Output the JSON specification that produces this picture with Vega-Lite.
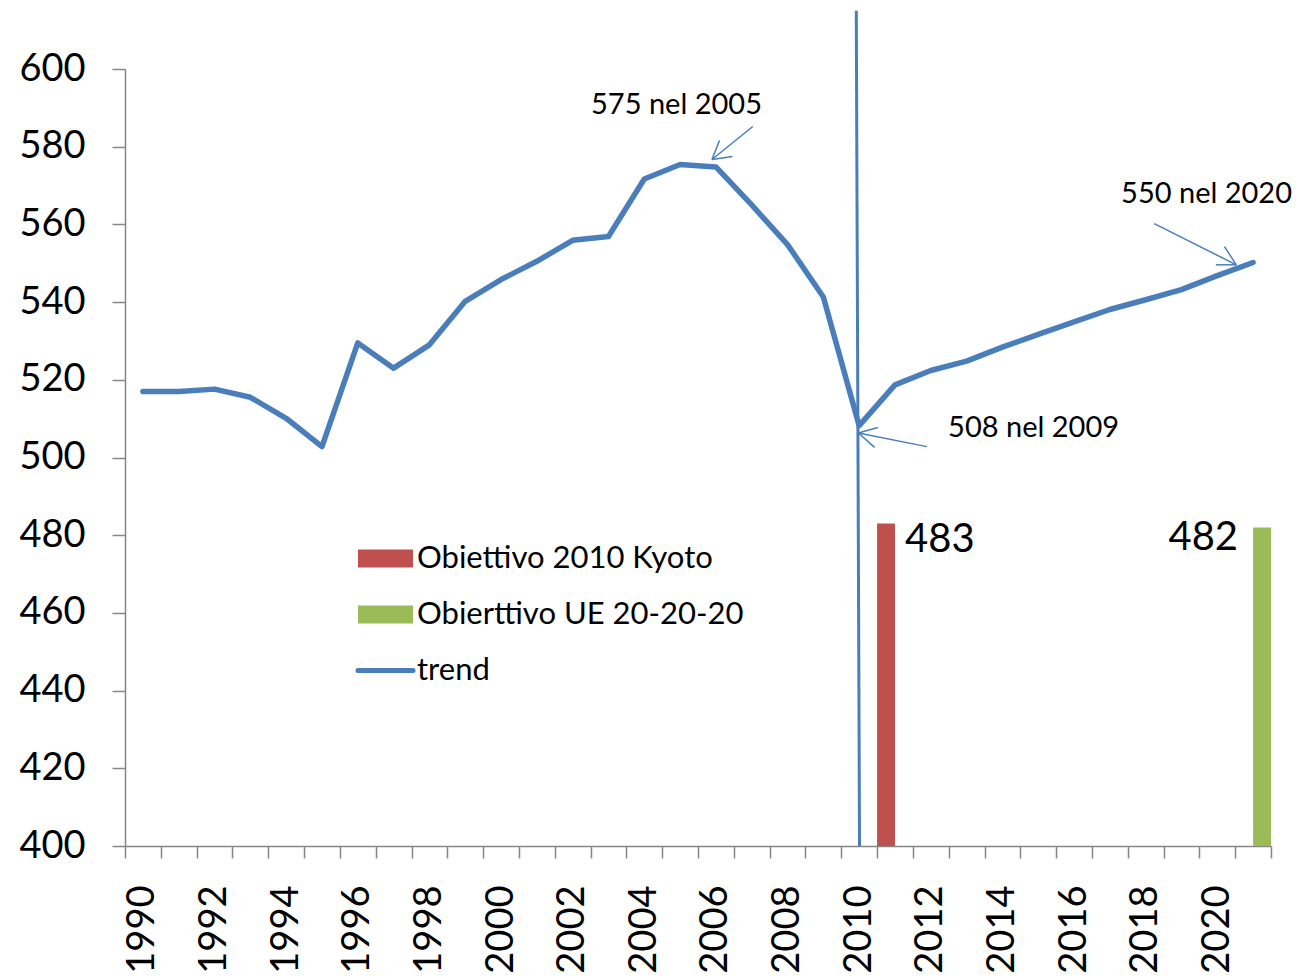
{
  "$schema": "https://vega.github.io/schema/vega-lite/v6.json",
  "width": 1146,
  "height": 777,
  "autosize": {"type": "none"},
  "padding": {"left": 125, "top": 69, "right": 30, "bottom": 134},
  "background": "white",
  "config": {
    "view": {"stroke": null},
    "font": "Lato",
    "axis": {
      "domainColor": "#868686",
      "tickColor": "#868686",
      "domainWidth": 1.5,
      "tickWidth": 1.5,
      "labelColor": "black",
      "grid": false,
      "labelFont": "Lato",
      "labelFontSize": 38
    }
  },
  "datasets": {
    "trend": [
      {"year": 1990, "value": 517.0, "series": "trend"},
      {"year": 1991, "value": 517.0, "series": "trend"},
      {"year": 1992, "value": 517.6, "series": "trend"},
      {"year": 1993, "value": 515.5, "series": "trend"},
      {"year": 1994, "value": 510.1, "series": "trend"},
      {"year": 1995, "value": 502.8, "series": "trend"},
      {"year": 1996, "value": 529.5, "series": "trend"},
      {"year": 1997, "value": 523.0, "series": "trend"},
      {"year": 1998, "value": 529.0, "series": "trend"},
      {"year": 1999, "value": 540.2, "series": "trend"},
      {"year": 2000, "value": 545.8, "series": "trend"},
      {"year": 2001, "value": 550.5, "series": "trend"},
      {"year": 2002, "value": 555.9, "series": "trend"},
      {"year": 2003, "value": 556.9, "series": "trend"},
      {"year": 2004, "value": 571.7, "series": "trend"},
      {"year": 2005, "value": 575.4, "series": "trend"},
      {"year": 2006, "value": 574.8, "series": "trend"},
      {"year": 2007, "value": 565.0, "series": "trend"},
      {"year": 2008, "value": 554.8, "series": "trend"},
      {"year": 2009, "value": 541.3, "series": "trend"},
      {"year": 2010, "value": 508.2, "series": "trend"},
      {"year": 2011, "value": 518.7, "series": "trend"},
      {"year": 2012, "value": 522.4, "series": "trend"},
      {"year": 2013, "value": 524.8, "series": "trend"},
      {"year": 2014, "value": 528.4, "series": "trend"},
      {"year": 2015, "value": 531.7, "series": "trend"},
      {"year": 2016, "value": 534.9, "series": "trend"},
      {"year": 2017, "value": 538.1, "series": "trend"},
      {"year": 2018, "value": 540.6, "series": "trend"},
      {"year": 2019, "value": 543.2, "series": "trend"},
      {"year": 2020, "value": 546.8, "series": "trend"},
      {"year": 2021, "value": 550.2, "series": "trend"}
    ],
    "targets": [
      {"year": 2011, "value": 483, "series": "Obiettivo 2010 Kyoto"},
      {"year": 2021, "value": 482, "series": "Obierttivo UE 20-20-20"}
    ],
    "arrows": [
      {"from_year": 2007.03, "from_val": 585.2, "to_year": 2005.89, "to_val": 576.7},
      {"from_year": 2006.10, "from_val": 581.6, "to_year": 2005.89, "to_val": 576.7},
      {"from_year": 2006.46, "from_val": 577.5, "to_year": 2005.89, "to_val": 576.7},
      {"from_year": 2018.24, "from_val": 560.2, "to_year": 2020.53, "to_val": 549.6},
      {"from_year": 2020.20, "from_val": 554.3, "to_year": 2020.53, "to_val": 549.6},
      {"from_year": 2019.96, "from_val": 549.6, "to_year": 2020.53, "to_val": 549.6},
      {"from_year": 2011.89, "from_val": 502.8, "to_year": 2009.98, "to_val": 506.3},
      {"from_year": 2010.52, "from_val": 507.7, "to_year": 2009.98, "to_val": 506.3},
      {"from_year": 2010.43, "from_val": 502.6, "to_year": 2009.98, "to_val": 506.3}
    ],
    "divider": [
      {"from_year": 2009.92, "from_val": 615, "to_year": 2010.01, "to_val": 400}
    ],
    "notes": [
      {"year": 2004.9, "value": 588.5, "label": "575 nel 2005"},
      {"year": 2019.7, "value": 565.5, "label": "550 nel 2020"},
      {"year": 2014.87, "value": 505.4, "label": "508 nel 2009"}
    ]
  },
  "layer": [
    {
      "layer": [
        {
          "data": {"name": "targets"},
          "mark": {"type": "bar"},
          "encoding": {
            "x": {
              "field": "year", "type": "ordinal", "title": null,
              "scale": {"domain": [1990,1991,1992,1993,1994,1995,1996,1997,1998,1999,2000,2001,2002,2003,2004,2005,2006,2007,2008,2009,2010,2011,2012,2013,2014,2015,2016,2017,2018,2019,2020,2021], "paddingInner": 0, "paddingOuter": 0},
              "axis": {"labelAngle": -90, "tickBand": "extent", "tickSize": 12, "labelPadding": 27, "labelOverlap": false, "labelExpr": "datum.value % 2 == 0 ? datum.value : ''"}
            },
            "xOffset": {"field": "series", "scale": {"domain": ["Obiettivo 2010 Kyoto", "Obierttivo UE 20-20-20"], "paddingInner": 0, "paddingOuter": 0}},
            "y": {
              "field": "value", "type": "quantitative", "title": null,
              "scale": {"domain": [400, 600], "nice": false, "zero": false},
              "axis": {"values": [400,420,440,460,480,500,520,540,560,580,600], "tickSize": 13, "labelPadding": 27}
            },
            "y2": {"datum": 400},
            "color": {
              "field": "series", "type": "nominal",
              "scale": {"domain": ["Obiettivo 2010 Kyoto", "Obierttivo UE 20-20-20", "trend"], "range": ["#C0504D", "#9BBB59", "#4A7EBB"]},
              "legend": {
                "orient": "none", "legendX": 245, "legendY": 474, "title": null,
                "symbolSize": 3025, "symbolStrokeWidth": 5, "labelFontSize": 31, "labelFont": "Lato",
                "labelColor": "black", "labelOffset": 16, "labelLimit": 600, "rowPadding": 24, "padding": 0,
                "encode": {
                  "symbols": {
                    "update": {
                      "shape": {"signal": "datum.value === 'trend' ? 'stroke' : 'M-1,-0.33H1V0.33H-1Z'"},
                      "strokeWidth": {"signal": "datum.value === 'trend' ? 5 : 0"},
                      "fill": {"scale": "color", "field": "value"},
                      "stroke": {"scale": "color", "field": "value"},
                      "strokeCap": {"value": "round"},
                      "opacity": {"value": 1}
                    }
                  }
                }
              }
            }
          }
        },
        {
          "data": {"name": "trend"},
          "mark": {"type": "line", "strokeWidth": 5.5, "strokeCap": "round", "strokeJoin": "round"},
          "encoding": {
            "x": {"field": "year", "type": "ordinal", "title": null},
            "y": {"field": "value", "type": "quantitative", "title": null, "scale": {"domain": [400, 600], "nice": false, "zero": false}},
            "color": {"field": "series", "type": "nominal"}
          }
        },
        {
          "data": {"name": "targets"},
          "transform": [{"filter": "datum.series === 'Obiettivo 2010 Kyoto'"}],
          "mark": {"type": "text", "align": "left", "baseline": "alphabetic", "dx": 19, "dy": 28, "fontSize": 40, "font": "Lato", "color": "black"},
          "encoding": {
            "x": {"field": "year", "type": "ordinal", "title": null},
            "xOffset": {"field": "series"},
            "y": {"field": "value", "type": "quantitative", "title": null, "scale": {"domain": [400, 600], "nice": false, "zero": false}},
            "text": {"field": "value", "type": "quantitative"}
          }
        },
        {
          "data": {"name": "targets"},
          "transform": [{"filter": "datum.series === 'Obierttivo UE 20-20-20'"}],
          "mark": {"type": "text", "align": "right", "baseline": "alphabetic", "dx": -24, "dy": 23, "fontSize": 40, "font": "Lato", "color": "black"},
          "encoding": {
            "x": {"field": "year", "type": "ordinal", "title": null},
            "xOffset": {"field": "series"},
            "y": {"field": "value", "type": "quantitative", "title": null, "scale": {"domain": [400, 600], "nice": false, "zero": false}},
            "text": {"field": "value", "type": "quantitative"}
          }
        }
      ]
    },
    {
      "layer": [
        {
          "data": {"name": "divider"},
          "mark": {"type": "rule", "color": "#4A7EBB", "strokeWidth": 3, "clip": false},
          "encoding": {
            "x": {"field": "from_year", "type": "quantitative", "axis": null, "scale": {"domain": [1989.5, 2021.5], "nice": false, "zero": false}},
            "y": {"field": "from_val", "type": "quantitative", "title": null, "scale": {"domain": [400, 600], "nice": false, "zero": false}},
            "x2": {"field": "to_year"},
            "y2": {"field": "to_val"}
          }
        },
        {
          "data": {"name": "arrows"},
          "mark": {"type": "rule", "color": "#4A7EBB", "strokeWidth": 1.5, "clip": false},
          "encoding": {
            "x": {"field": "from_year", "type": "quantitative", "axis": null, "scale": {"domain": [1989.5, 2021.5], "nice": false, "zero": false}},
            "y": {"field": "from_val", "type": "quantitative", "title": null, "scale": {"domain": [400, 600], "nice": false, "zero": false}},
            "x2": {"field": "to_year"},
            "y2": {"field": "to_val"}
          }
        },
        {
          "data": {"name": "notes"},
          "mark": {"type": "text", "align": "center", "baseline": "alphabetic", "fontSize": 29, "font": "Lato", "color": "black", "clip": false},
          "encoding": {
            "x": {"field": "year", "type": "quantitative", "axis": null, "scale": {"domain": [1989.5, 2021.5], "nice": false, "zero": false}},
            "y": {"field": "value", "type": "quantitative", "title": null, "scale": {"domain": [400, 600], "nice": false, "zero": false}},
            "text": {"field": "label", "type": "nominal"}
          }
        }
      ]
    }
  ],
  "resolve": {"scale": {"x": "independent"}, "axis": {"x": "independent"}}
}
